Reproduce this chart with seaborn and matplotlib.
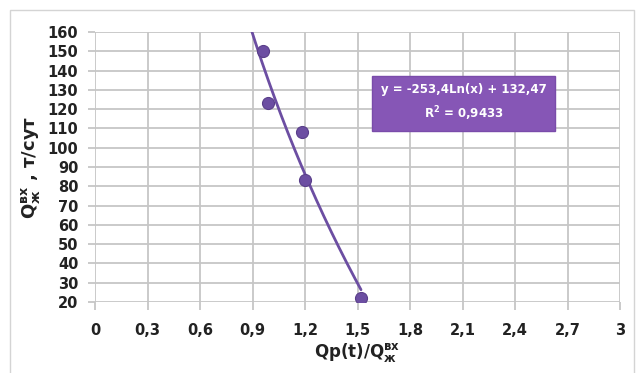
"""Log trend of liquid inflow vs Qp(t)/Qж ratio, rebuilt from a spreadsheet chart."""

import matplotlib
matplotlib.use("Agg")
import matplotlib.pyplot as plt
import matplotlib.patches as mpatches
import numpy as np
import pandas as pd
import seaborn as sns

ratio = [0.96, 0.99, 1.18, 1.20, 1.52]
q_liquid = [150, 123, 108, 83, 22]

# logarithmic trend as printed on the chart
coef_a = -253.4
coef_b = 132.47
r_squared = "0,9433"

x_ticks = [0, 0.3, 0.6, 0.9, 1.2, 1.5, 1.8, 2.1, 2.4, 2.7, 3]
x_tick_labels = ["0", "0,3", "0,6", "0,9", "1,2", "1,5", "1,8", "2,1", "2,4", "2,7", "3"]
y_ticks = list(range(20, 161, 10))

sns.set_theme(style="white")
plt.rcParams["font.family"] = ["DejaVu Sans"]
plt.rcParams["mathtext.fontset"] = "dejavusans"
plt.rcParams["mathtext.default"] = "bf"

purple = "#6c4ea2"
grid_c = "#c6c6c6"

fig = plt.figure(figsize=(6.38, 3.73), dpi=100)
ax = fig.add_axes([95 / 638, 1 - 302 / 373, (620 - 95) / 638, (302 - 32) / 373])

# outer chart border
fig.patches.append(mpatches.Rectangle(
    (10 / 638, -0.05), (634 - 10) / 638, 1.05 - 10 / 373,
    transform=fig.transFigure, fill=False, edgecolor="#d4d4d4", linewidth=1.0))

df = pd.DataFrame({"ratio": ratio, "q": q_liquid})

# trend line over the data range, clipped by the axes at the top
x_fit = np.linspace(0.85, max(ratio), 200)
fit = pd.DataFrame({"ratio": x_fit, "q": coef_a * np.log(x_fit) + coef_b})
sns.lineplot(data=fit, x="ratio", y="q", ax=ax, color=purple, linewidth=2.0, zorder=3)
sns.scatterplot(data=df, x="ratio", y="q", ax=ax, color=purple, s=75,
                edgecolor="#5a3f8a", linewidth=0.8, zorder=4)

ax.set_xlim(0, 3)
ax.set_ylim(20, 160)
ax.set_xticks(x_ticks)
ax.set_xticklabels(x_tick_labels)
ax.set_yticks(y_ticks)

ax.grid(True, color=grid_c, linewidth=1.3)
ax.set_axisbelow(True)
for s in ax.spines.values():
    s.set_visible(False)

ax.tick_params(axis="x", bottom=True, length=6, width=1.3, color=grid_c, pad=9,
               labelsize=10.5)
ax.tick_params(axis="y", left=True, length=5, width=1.3, color=grid_c, pad=7,
               labelsize=10.5)
for lab in ax.get_xticklabels() + ax.get_yticklabels():
    lab.set_fontweight("bold")
    lab.set_color("#222222")

ax.set_xlabel(r"Qp(t)/Q$_{ж}^{вх}$", fontsize=12, fontweight="bold",
              color="#222222", labelpad=2)
ax.set_ylabel(r"Q$_{ж}^{вх}$ , т/сут", fontsize=13, fontweight="bold",
              color="#222222", labelpad=4)

# equation box
ax.text(
    (374 + 553) / 2 / 638, 1 - 103 / 373,
    "y = -253,4Ln(x) + 132,47\nR$^{2}$ = " + r_squared,
    transform=fig.transFigure, ha="center", va="center",
    color="white", fontsize=8.5, fontweight="bold", linespacing=1.6,
    bbox=dict(boxstyle="square,pad=0.7", facecolor="#8656b6", edgecolor="#7a4caa"),
    zorder=5,
)

fig.savefig("out.png", dpi=100)
